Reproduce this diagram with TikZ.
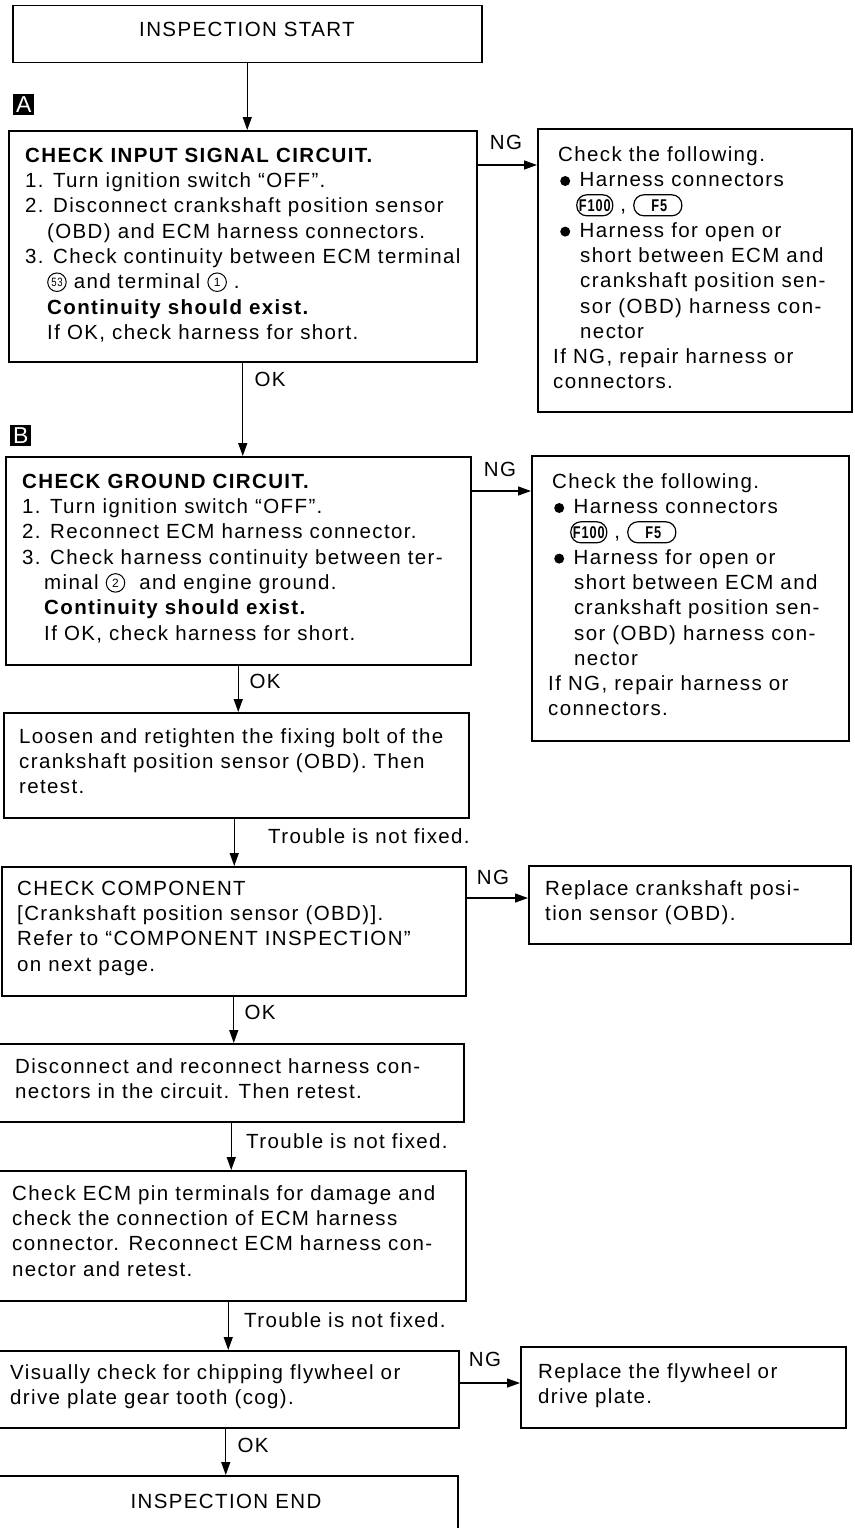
\documentclass[tikz,border=0pt]{standalone}
\usepackage{fontspec}
\usepackage{graphicx}
\setmainfont{Liberation Sans}[LetterSpace=6.7]
\usetikzlibrary{arrows.meta}
\tikzset{inl/.style={anchor=center,align=center}}
\newcommand\st{\rule{0pt}{17pt}}
\newcommand\cnum[1]{\raisebox{6.5pt}{\tikz[baseline=(cn.center)]\node[inl,draw,circle,line width=1pt,inner sep=0pt,minimum size=18.5pt,font=\fontsize{12}{12}\selectfont] (cn) {#1};}}
\newcommand\bul{\hspace*{2pt}\tikz[baseline=0pt]{\fill (4.5pt,5.5pt) circle[radius=5pt];}\hspace*{9.5pt}}
\newcommand\conn[2]{\raisebox{6.5pt}{\tikz[baseline=(cp.center)]\node[inl,draw,rounded corners=10pt,line width=1.2pt,inner sep=0pt,minimum width=#2,minimum height=21pt,font=\fontsize{17}{17}\selectfont\bfseries] (cp) {\scalebox{0.75}[1]{#1}};}}
\begin{document}
\begin{tikzpicture}[x=1pt,y=-1pt,
  box/.style={draw,line width=1.5pt,anchor=north west,inner sep=0pt},
  txt/.style={anchor=north west,align=left,inner sep=0pt,font=\fontsize{20.5}{25.3}\selectfont},
  lbl/.style={inner sep=0pt,font=\fontsize{20.5}{25}\selectfont},
  markbox/.style={fill=black,text=white,anchor=north west,inner sep=0pt,minimum size=21pt,font=\fontsize{23}{23}\selectfont},
  arr/.style={line width=1.3pt,-{Triangle[length=13pt,width=9pt]}}]
\useasboundingbox (0,0) rectangle (854,1528);
% boxes
\node[box,minimum width=469pt,minimum height=57pt] (start) at (12,5) {};
\node[box,minimum width=468pt,minimum height=231pt] (A) at (8,130) {};
\node[box,minimum width=314pt,minimum height=283pt] (rA) at (537,128) {};
\node[box,minimum width=465pt,minimum height=208pt] (B) at (5,456) {};
\node[box,minimum width=317pt,minimum height=285pt] (rB) at (531,455) {};
\node[box,minimum width=465pt,minimum height=105pt] (C4) at (3,712) {};
\node[box,minimum width=464pt,minimum height=129pt] (C5) at (1,866) {};
\node[box,minimum width=322pt,minimum height=78pt] (r5) at (528,865) {};
\node[box,minimum width=465pt,minimum height=78pt] (C6) at (-2,1043) {};
\node[box,minimum width=467pt,minimum height=130pt] (C7) at (-2,1170) {};
\node[box,minimum width=460pt,minimum height=77pt] (C8) at (-2,1350) {};
\node[box,minimum width=325pt,minimum height=81pt] (r8) at (520,1346) {};
\node[box,minimum width=459pt,minimum height=70pt] (end) at (-2,1475) {};
% markers
\node[markbox] (mA) at (13,94) {A};
\node[markbox] (mB) at (10,425) {B};
% texts
\node[lbl] (tstart) at (247,29) {INSPECTION START};
\node[txt] (tA) at (25,145) {\st\textbf{CHECK INPUT SIGNAL CIRCUIT.}\\
1. Turn ignition switch “OFF”.\\
2. Disconnect crankshaft position sensor\\
\hspace*{22pt}(OBD) and ECM harness connectors.\\
3. Check continuity between ECM terminal\\
\hspace*{22pt}\cnum{\scalebox{0.8}[1]{53}} and terminal \cnum{1} .\\
\hspace*{22pt}\textbf{Continuity should exist.}\\
\hspace*{22pt}If OK, check harness for short.};
\node[txt] (trA) at (553,144) {\st\hspace*{5pt}Check the following.\\
\hspace*{5pt}\bul Harness connectors\\
\hspace*{23pt}\conn{F100}{36pt} , \conn{\hspace*{4pt}F5}{48pt}\\
\hspace*{5pt}\bul Harness for open or\\
\hspace*{27pt}short between ECM and\\
\hspace*{27pt}crankshaft position sen-\\
\hspace*{27pt}sor (OBD) harness con-\\
\hspace*{27pt}nector\\
If NG, repair harness or\\
connectors.};
\node[txt] (tB) at (22,471) {\st\textbf{CHECK GROUND CIRCUIT.}\\
1. Turn ignition switch “OFF”.\\
2. Reconnect ECM harness connector.\\
3. Check harness continuity between ter-\\
\hspace*{22pt}minal \cnum{2}\ \ and engine ground.\\
\hspace*{22pt}\textbf{Continuity should exist.}\\
\hspace*{22pt}If OK, check harness for short.};
\node[txt] (trB) at (548,471) {\st\hspace*{4pt}Check the following.\\
\hspace*{4pt}\bul Harness connectors\\
\hspace*{22pt}\conn{F100}{36pt} , \conn{\hspace*{4pt}F5}{48pt}\\
\hspace*{4pt}\bul Harness for open or\\
\hspace*{26pt}short between ECM and\\
\hspace*{26pt}crankshaft position sen-\\
\hspace*{26pt}sor (OBD) harness con-\\
\hspace*{26pt}nector\\
If NG, repair harness or\\
connectors.};
\node[txt] (t4) at (19,726) {\st Loosen and retighten the fixing bolt of the\\
crankshaft position sensor (OBD). Then\\
retest.};
\node[txt] (t5) at (17,878) {\st CHECK COMPONENT\\
{[}Crankshaft position sensor (OBD){]}.\\
Refer to “COMPONENT INSPECTION”\\
on next page.};
\node[txt] (tr5) at (545,878) {\st Replace crankshaft posi-\\
tion sensor (OBD).};
\node[txt] (t6) at (15,1056) {\st Disconnect and reconnect harness con-\\
nectors in the circuit. Then retest.};
\node[txt] (t7) at (12,1183) {\st Check ECM pin terminals for damage and\\
check the connection of ECM harness\\
connector. Reconnect ECM harness con-\\
nector and retest.};
\node[txt] (t8) at (10,1362) {\st Visually check for chipping flywheel or\\
drive plate gear tooth (cog).};
\node[txt] (tr8) at (538,1361) {\st Replace the flywheel or\\
drive plate.};
\node[lbl] (tend) at (226,1501) {INSPECTION END};
% vertical connectors
\draw[arr] (start.south) -- (start.south |- A.north);
\draw[arr] (A.south) -- (A.south |- B.north);
\draw[arr] (B.south) -- (B.south |- C4.north);
\draw[arr] ([xshift=-2pt]C4.south) -- ([xshift=-2pt]C4.south |- C5.north);
\draw[arr] (C5.south) -- (C5.south |- C6.north);
\draw[arr] (C6.south) -- (C6.south |- C7.north);
\draw[arr] ([xshift=-4pt]C7.south) -- ([xshift=-4pt]C7.south |- C8.north);
\draw[arr] ([xshift=-3pt]C8.south) -- ([xshift=-3pt]C8.south |- end.north);
% NG connectors
\coordinate (nA) at (0,165);
\coordinate (nB) at (0,491);
\coordinate (n5) at (0,898);
\coordinate (n8) at (0,1383);
\draw[arr] (A.east |- nA) -- (rA.west |- nA);
\draw[arr] (B.east |- nB) -- (rB.west |- nB);
\draw[arr] (C5.east |- n5) -- (r5.west |- n5);
\draw[arr] (C8.east |- n8) -- (r8.west |- n8);
% labels
\node[lbl] (ngA) at (506,142) {NG};
\node[lbl] (ngB) at (500,469) {NG};
\node[lbl] (ng5) at (493,877) {NG};
\node[lbl] (ng8) at (485,1359) {NG};
\node[lbl] (okA) at (270,379) {OK};
\node[lbl] (okB) at (265,681) {OK};
\node[lbl] (ok5) at (260,1012) {OK};
\node[lbl] (ok8) at (253,1445) {OK};
\node[lbl,anchor=base west] (tr1) at (268,843) {Trouble is not fixed.};
\node[lbl,anchor=base west] (tr2) at (246,1148) {Trouble is not fixed.};
\node[lbl,anchor=base west] (tr3) at (244,1327) {Trouble is not fixed.};
\end{tikzpicture}
\end{document}
